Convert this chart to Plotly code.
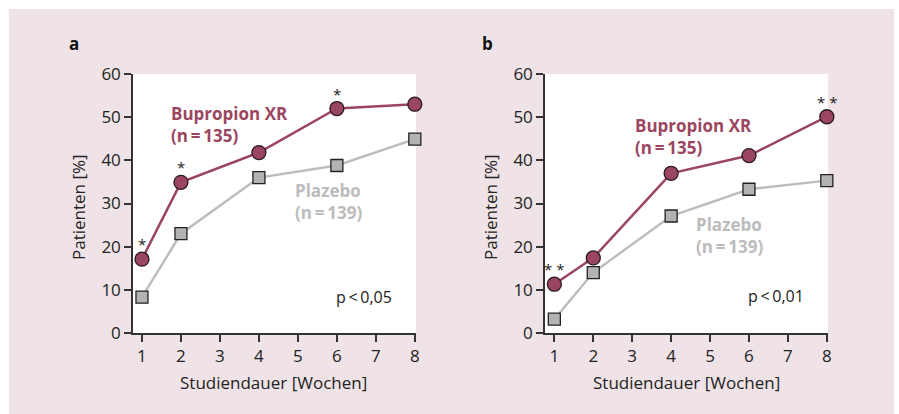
import plotly.graph_objects as go

# ---- data ----
weeks = [1, 2, 4, 6, 8]
bup_a = [17.1, 34.9, 41.8, 52.0, 53.0]
pla_a = [8.3, 23.0, 36.0, 38.8, 44.9]
bup_b = [11.3, 17.4, 37.0, 41.1, 50.1]
pla_b = [3.2, 14.0, 27.1, 33.3, 35.3]
x_ticks = [1, 2, 3, 4, 5, 6, 7, 8]
y_ticks = [0, 10, 20, 30, 40, 50, 60]
star_a = [(1, 17.1, "*"), (2, 34.9, "*"), (6, 52.0, "*")]
star_b = [(1, 11.3, "* *"), (8, 50.1, "* *")]

MAROON = "#9b4661"
GRAY_LINE = "#bdbdbd"
GRAY_FILL = "#b3b3b3"
GRAY_TEXT = "#bcbcbc"
PINK = "#efe3e7"
FONT = "Open Sans"
TS = "\u2009"

fig = go.Figure()

for xa, ya, bup, pla in [("x", "y", bup_a, pla_a), ("x2", "y2", bup_b, pla_b)]:
    fig.add_trace(go.Scatter(x=weeks, y=pla, xaxis=xa, yaxis=ya, mode="lines+markers",
                             line=dict(color=GRAY_LINE, width=2.5),
                             marker=dict(symbol="square", size=12, color=GRAY_FILL,
                                         line=dict(color="#222222", width=1.3)),
                             showlegend=False, cliponaxis=False, hoverinfo="skip"))
    fig.add_trace(go.Scatter(x=weeks, y=bup, xaxis=xa, yaxis=ya, mode="lines+markers",
                             line=dict(color=MAROON, width=2.5),
                             marker=dict(symbol="circle", size=14, color=MAROON,
                                         line=dict(color="#2a1a1f", width=1.3)),
                             showlegend=False, cliponaxis=False, hoverinfo="skip"))

axis_common = dict(showline=True, linecolor="#333333", linewidth=1.5, ticks="outside",
                   ticklen=7, tickwidth=1.5, tickcolor="#333333", showgrid=False,
                   zeroline=False, automargin=False,
                   tickfont=dict(family=FONT, size=17, color="#222222"))

fig.update_layout(
    template="none",
    width=899, height=414, margin=dict(l=0, r=0, t=0, b=0, pad=0, autoexpand=False),
    paper_bgcolor=PINK, plot_bgcolor="white",
    font=dict(family=FONT),
    xaxis=dict(domain=[133/899, 416/899], range=[0.77, 8.03], tickvals=x_ticks, anchor="y", **axis_common),
    yaxis=dict(domain=[1-333/414, 1-74/414], range=[0, 60], tickvals=y_ticks, anchor="x", **axis_common),
    xaxis2=dict(domain=[545/899, 828/899], range=[0.76, 8.03], tickvals=x_ticks, anchor="y2", **axis_common),
    yaxis2=dict(domain=[1-333/414, 1-74/414], range=[0, 60], tickvals=y_ticks, anchor="x2", **axis_common),
)

# white page margins around the pink panel
for x0, y0, x1, y1 in [(0, 0, 899, 9), (0, 0, 9, 414), (894, 0, 899, 414)]:
    fig.add_shape(type="rect", xref="paper", yref="paper", x0=x0/899, x1=x1/899,
                  y0=1-y1/414, y1=1-y0/414, fillcolor="white", line_width=0, layer="above")

ann = []
# panel letters
ann.append(dict(text="<b>a</b>", xref="paper", yref="paper", x=67/899, y=1-43/414,
                xanchor="left", yanchor="middle", showarrow=False,
                font=dict(family=FONT, size=17, color="#111111")))
ann.append(dict(text="<b>b</b>", xref="paper", yref="paper", x=480/899, y=1-43/414,
                xanchor="left", yanchor="middle", showarrow=False,
                font=dict(family=FONT, size=17, color="#111111")))
# axis titles
for cx in [273, 686]:
    ann.append(dict(text="Studiendauer [Wochen]", xref="paper", yref="paper", x=cx/899, y=1-382/414,
                    xanchor="center", yanchor="middle", showarrow=False,
                    font=dict(family=FONT, size=17, color="#222222")))
for cx in [78, 490]:
    ann.append(dict(text="Patienten [%]", xref="paper", yref="paper", x=cx/899, y=1-207/414,
                    xanchor="center", yanchor="middle", showarrow=False, textangle=-90,
                    font=dict(family=FONT, size=17, color="#222222")))
# series labels
nb = f"(n{TS}={TS}135)"
np_ = f"(n{TS}={TS}139)"
lab = [("x", "y", 1.69, 48.3, f"<b>Bupropion XR<br>{nb}</b>", MAROON),
       ("x", "y", 4.87, 30.5, f"<b>Plazebo<br>{np_}</b>", GRAY_TEXT),
       ("x2", "y2", 3.02, 45.5, f"<b>Bupropion XR<br>{nb}</b>", MAROON),
       ("x2", "y2", 4.59, 22.5, f"<b>Plazebo<br>{np_}</b>", GRAY_TEXT)]
for xr, yr, x, y, t, c in lab:
    ann.append(dict(text=t, xref=xr, yref=yr, x=x, y=y, xanchor="left", yanchor="middle",
                    align="left", showarrow=False, font=dict(family=FONT, size=17, color=c)))
# p-values
ann.append(dict(text=f"p{TS}<{TS}0,05", xref="x", yref="y", x=5.92, y=8.4, xanchor="left", yanchor="middle",
                showarrow=False, font=dict(family=FONT, size=16, color="#222222")))
ann.append(dict(text=f"p{TS}<{TS}0,01", xref="x2", yref="y2", x=5.93, y=8.6, xanchor="left", yanchor="middle",
                showarrow=False, font=dict(family=FONT, size=16, color="#222222")))
# significance stars
for xr, yr, stars in [("x", "y", star_a), ("x2", "y2", star_b)]:
    for x, y, s in stars:
        ann.append(dict(text=s, xref=xr, yref=yr, x=x, y=y, yshift=15, xanchor="center",
                        yanchor="middle", showarrow=False,
                        font=dict(family=FONT, size=15, color="#222222")))

fig.update_layout(annotations=ann)
fig.write_html("out.html", config={"displayModeBar": False},
               post_script="document.body.style.margin='0';document.body.style.padding='0';")
